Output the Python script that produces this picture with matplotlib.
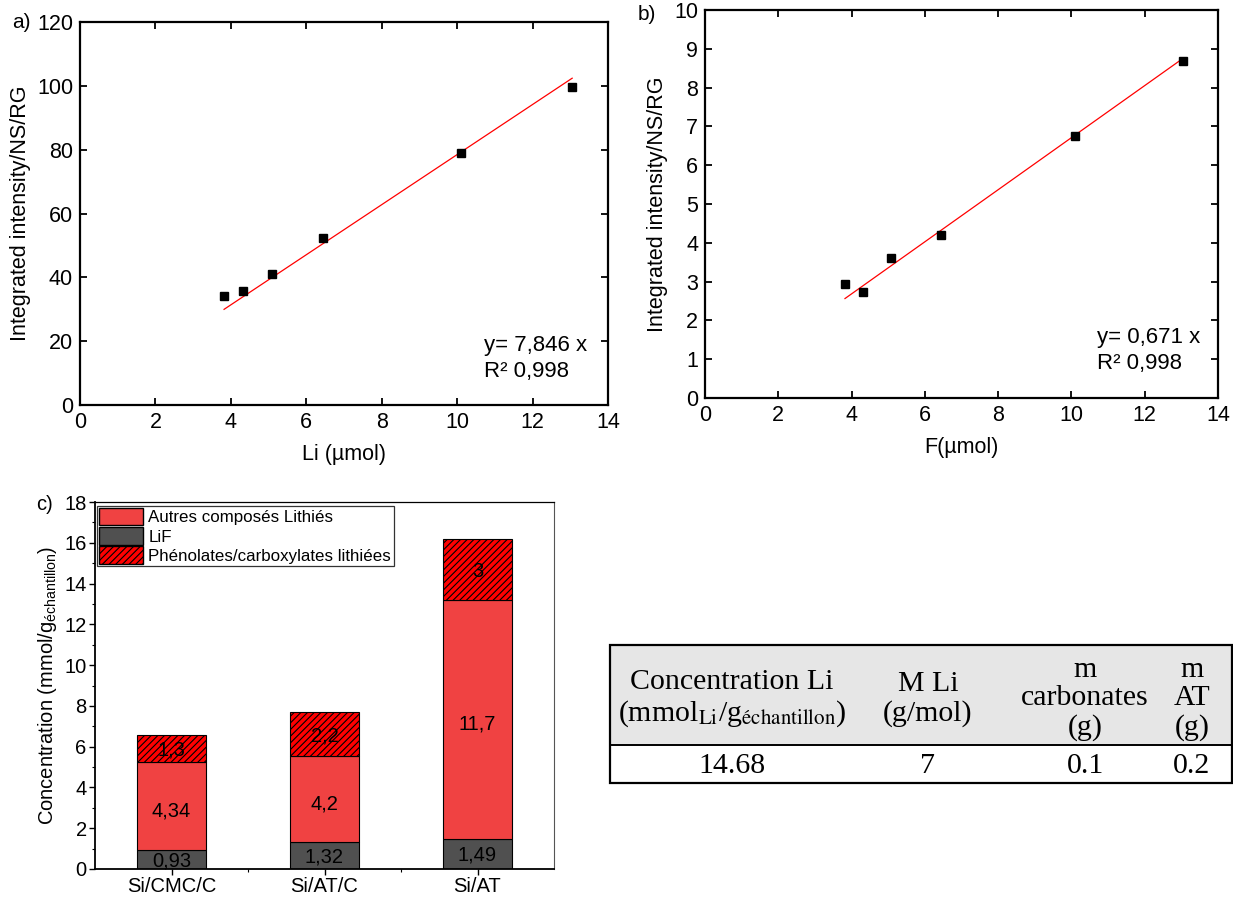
import matplotlib.pyplot as plt
from matplotlib.patches import Patch, Rectangle
import numpy as np

plt.rcParams['font.family'] = ['Liberation Sans', 'DejaVu Sans']
plt.rcParams['mathtext.fontset'] = 'custom'
plt.rcParams['mathtext.rm'] = 'Liberation Sans'
plt.rcParams['mathtext.it'] = 'Liberation Sans:italic'
plt.rcParams['hatch.linewidth'] = 0.8

# --- data: panel a (Li) ---
li_x = [3.82, 4.31, 5.08, 6.45, 10.1, 13.05]
li_y = [34.0, 35.6, 41.2, 52.3, 78.8, 99.6]
li_slope = 7.846

# --- data: panel b (F) ---
f_x = [3.82, 4.31, 5.08, 6.45, 10.1, 13.05]
f_y = [2.95, 2.72, 3.62, 4.19, 6.74, 8.69]
f_slope = 0.671

# --- data: panel c (stacked bars) ---
samples = ['Si/CMC/C', 'Si/AT/C', 'Si/AT']
lif = [0.93, 1.32, 1.49]
autres = [4.34, 4.2, 11.7]
phenol = [1.3, 2.2, 3.0]
lif_lbl = ['0,93', '1,32', '1,49']
autres_lbl = ['4,34', '4,2', '11,7']
phenol_lbl = ['1,3', '2,2', '3']

# --- data: table ---
tbl_head = ['Concentration Li\n(mmol$_{\\mathrm{Li}}$/g$_{\\mathrm{échantillon}}$)',
            'M Li\n(g/mol)', 'm\ncarbonates\n(g)', 'm\nAT\n(g)']
tbl_row = ['14.68', '7', '0.1', '0.2']

W, H = 1233, 899
fig = plt.figure(figsize=(W / 100, H / 100), dpi=100)


def px_axes(l, r, t, b):
    return fig.add_axes([l / W, 1 - b / H, (r - l) / W, (b - t) / H])


def calib_panel(ax, x, y, slope, ylim, yticks, xlabel, eq):
    ax.plot(x, y, 's', color='black', ms=6, zorder=3)
    xf = np.array([min(x), max(x)])
    ax.plot(xf, slope * xf, color='red', lw=0.9)
    ax.set_xlim(0, 14)
    ax.set_ylim(*ylim)
    ax.set_xticks(range(0, 15, 2))
    ax.set_yticks(yticks)
    ax.tick_params(direction='in', top=True, right=True, labelsize=15.5,
                   length=5, width=1.3, pad=5)
    for s in ax.spines.values():
        s.set_linewidth(1.6)
    ax.set_xlabel(xlabel, fontsize=15.5, labelpad=8)
    ax.set_ylabel('Integrated intensity/NS/RG', fontsize=15.5, labelpad=4)
    ax.text(0.765, 0.155, eq, transform=ax.transAxes, fontsize=16, va='center')
    ax.text(0.765, 0.088, 'R² 0,998', transform=ax.transAxes, fontsize=16, va='center')


# panel a
ax_a = px_axes(80, 608, 22, 405)
calib_panel(ax_a, li_x, li_y, li_slope, (0, 120), range(0, 121, 20), 'Li (µmol)', 'y= 7,846 x')
fig.text(12 / W, 1 - 22 / H, 'a)', fontsize=15, va='center')

# panel b
ax_b = px_axes(705, 1218, 10, 398)
calib_panel(ax_b, f_x, f_y, f_slope, (0, 10), range(0, 11), 'F(µmol)', 'y= 0,671 x')
fig.text(638 / W, 1 - 15 / H, 'b)', fontsize=15, va='center')

# panel c
ax_c = px_axes(95, 554, 502, 869)
pos = np.arange(len(samples))
c_autres = '#f04242'
c_lif = '#505050'
bw = 0.45
ax_c.bar(pos, lif, bw, color=c_lif, edgecolor='black', lw=0.8)
ax_c.bar(pos, autres, bw, bottom=lif, color=c_autres, edgecolor='black', lw=0.8)
base2 = np.array(lif) + np.array(autres)
ax_c.bar(pos, phenol, bw, bottom=base2, color='#ff0000', edgecolor='black',
         hatch='/////', lw=0.8)
for i in pos:
    ax_c.text(i, lif[i] / 2 - 0.05, lif_lbl[i], ha='center', va='center', fontsize=14.5)
    ax_c.text(i, lif[i] + autres[i] / 2 - 0.25, autres_lbl[i], ha='center', va='center', fontsize=14.5)
    ax_c.text(i, base2[i] + phenol[i] / 2 - 0.1, phenol_lbl[i], ha='center', va='center', fontsize=14.5)
ax_c.set_xlim(-0.5, 2.5)
ax_c.set_ylim(0, 18)
ax_c.set_yticks(range(0, 19, 2))
ax_c.set_yticks(range(1, 18, 2), minor=True)
ax_c.set_xticks(pos)
ax_c.set_xticklabels(samples)
ax_c.set_xticks([0.5, 1.5], minor=True)
ax_c.tick_params(direction='out', labelsize=14.5, length=4, width=1, pad=2)
ax_c.tick_params(which='minor', direction='out', length=2.5, width=0.8)
ax_c.spines['left'].set_linewidth(1.3)
ax_c.spines['bottom'].set_linewidth(1.3)
ax_c.spines['top'].set_linewidth(0.9)
ax_c.spines['right'].set_linewidth(0.8)
ax_c.spines['right'].set_color('#555555')
ax_c.set_ylabel('Concentration (mmol/g$_{\\mathrm{échantillon}}$)', fontsize=14.5, labelpad=4)
fig.text(36 / W, 1 - 505 / H, 'c)', fontsize=14.5, va='center')

handles = [Patch(facecolor=c_autres, edgecolor='black', label='Autres composés Lithiés'),
           Patch(facecolor=c_lif, edgecolor='black', label='LiF'),
           Patch(facecolor='#ff0000', edgecolor='black', hatch='/////',
                 label='Phénolates/carboxylates lithiées')]
leg = ax_c.legend(handles=handles, loc='upper left', bbox_to_anchor=(0.0, 0.995),
                  fontsize=12.2, frameon=True, fancybox=False, edgecolor='black',
                  handlelength=2.6, handleheight=1.2, handletextpad=0.3,
                  labelspacing=0.1, borderpad=0.15, borderaxespad=0.1)
leg.get_frame().set_linewidth(0.9)

# table
ax_t = px_axes(610, 1232, 645, 783)
ax_t.set_xlim(0, 622)
ax_t.set_ylim(138, 0)
ax_t.axis('off')
ax_t.add_patch(Rectangle((0, 0), 622, 100, facecolor='#e6e6e6', edgecolor='none'))
ax_t.add_patch(Rectangle((0, 0), 622, 138, facecolor='none', edgecolor='black', lw=1.6, clip_on=False))
ax_t.plot([0, 622], [100, 100], color='black', lw=1.4)
col_x = [122, 318, 475, 582]
serif = ['Liberation Serif', 'DejaVu Serif']
for cx, head, val in zip(col_x, tbl_head, tbl_row):
    ax_t.text(cx, 54, head, ha='center', va='center', fontsize=21.5, family=serif,
              math_fontfamily='stix', linespacing=1.12)
    ax_t.text(cx, 121, val, ha='center', va='center', fontsize=21.5, family=serif)

fig.savefig('out.png', dpi=100)
